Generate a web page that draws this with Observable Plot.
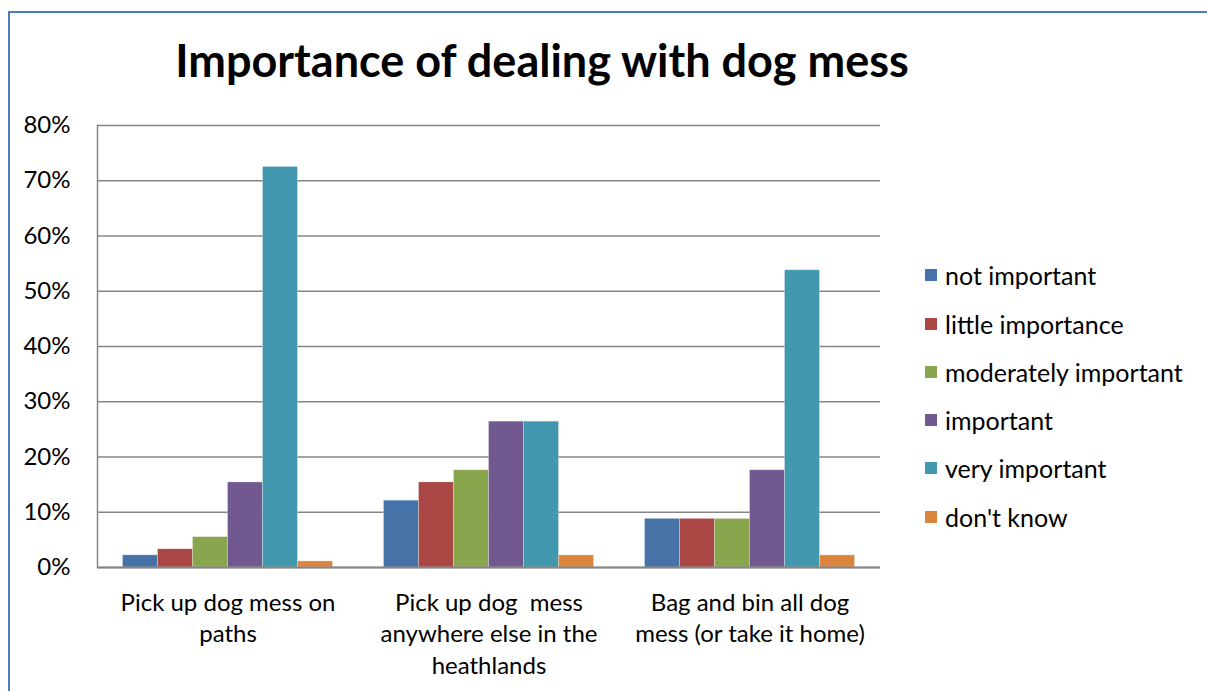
<!DOCTYPE html>
<html>
<head>
<meta charset="utf-8">
<script src="https://cdn.jsdelivr.net/npm/d3@7"></script>
<script src="https://cdn.jsdelivr.net/npm/@observablehq/plot@0.6"></script>
<style>
  html, body { margin: 0; padding: 0; background: #fff; overflow: hidden; }
  #wrap { position: relative; width: 1207px; height: 691px; font-family: Lato, "Open Sans", sans-serif; }
  #border { position: absolute; left: 8px; top: 11px; width: 1400px; height: 900px; border: 2px solid #4A7EBB; box-sizing: border-box; }
  #title { position: absolute; left: 0; width: 1084px; top: 30px; text-align: center; font-size: 45px; font-weight: bold; color: #000; line-height: 60px; }
  #chart { position: absolute; left: 0; top: 0; }
  #legend { position: absolute; left: 925px; top: 0; }
  .item { position: absolute; left: 0; display: flex; align-items: center; white-space: nowrap; font-size: 25px; color: #000; height: 30px; }
  .sw { width: 12px; height: 12px; margin-right: 8px; }
</style>
</head>
<body>
<div id="wrap">
  <div id="border"></div>
  <div id="chart"></div>
  <div id="title">Importance of dealing with dog mess</div>
  <div id="legend"></div>
</div>
<script>
const categories = ["Pick up dog mess on paths", "Pick up dog mess anywhere else in the heathlands", "Bag and bin all dog mess (or take it home)"];
const categoryLabels = ["Pick up dog mess on\npaths", "Pick up dog  mess\nanywhere else in the\nheathlands", "Bag and bin all dog\nmess (or take it home)"];
const series = ["not important", "little importance", "moderately important", "important", "very important", "don't know"];
const colors = ["#4572A7", "#AA4643", "#89A54E", "#71588F", "#4198AF", "#DB843D"];
// percent values per series, one per category
const notImportant = [2.2, 12.1, 8.8];
const littleImportance = [3.3, 15.4, 8.8];
const moderatelyImportant = [5.5, 17.6, 8.8];
const important = [15.4, 26.4, 17.6];
const veryImportant = [72.5, 26.4, 53.8];
const dontKnow = [1.1, 2.2, 2.2];
const yTicks = [0, 10, 20, 30, 40, 50, 60, 70, 80];

const seriesValues = [notImportant, littleImportance, moderatelyImportant, important, veryImportant, dontKnow];
const rows = [];
categories.forEach((c, ci) => series.forEach((s, si) => rows.push({cat: c, series: s, value: seriesValues[si][ci]})));
const labelOf = new Map(categories.map((c, i) => [c, categoryLabels[i]]));

const chart = Plot.plot({
  width: 1207,
  height: 691,
  marginLeft: 97,
  marginRight: 327,
  marginTop: 125,
  marginBottom: 124,
  style: {fontFamily: "Lato, 'Open Sans', sans-serif", background: "transparent", overflow: "visible"},
  fx: {domain: categories, padding: 0, round: false},
  x: {domain: series, paddingInner: 0, paddingOuter: 0.7286, round: false, axis: null},
  y: {domain: [0, 80], nice: false},
  color: {domain: series, range: colors},
  marks: [
    Plot.gridY(yTicks, {stroke: "#868686", strokeOpacity: 1, strokeWidth: 1.5}),
    Plot.frame({anchor: "left", stroke: "#868686", strokeWidth: 1.5, facet: "super"}),
    Plot.barY(rows, {fx: "cat", x: "series", y: "value", fill: "series", stroke: "#ffffff", strokeOpacity: 0.35, strokeWidth: 0.8}),
    Plot.ruleY([0], {stroke: "#868686", strokeWidth: 2}),
    Plot.axisY(yTicks, {tickFormat: d => d + "%", tickSize: 0, tickPadding: 27, fill: "#000", fontSize: 24, label: null}),
    Plot.axisFx({anchor: "bottom", tickFormat: d => labelOf.get(d), tickSize: 0, tickPadding: 21, fontSize: 24, lineHeight: 1.31, fill: "#000", label: null})
  ]
});
document.getElementById("chart").appendChild(chart);

const legend = document.getElementById("legend");
const rowCenters = [275, 324, 372, 420, 468, 517];
series.forEach((s, i) => {
  const item = document.createElement("div");
  item.className = "item";
  item.style.top = (rowCenters[i] - 15) + "px";
  const sw = document.createElement("div");
  sw.className = "sw";
  sw.style.background = colors[i];
  const t = document.createElement("span");
  t.textContent = s;
  item.appendChild(sw);
  item.appendChild(t);
  legend.appendChild(item);
});
</script>
</body>
</html>
